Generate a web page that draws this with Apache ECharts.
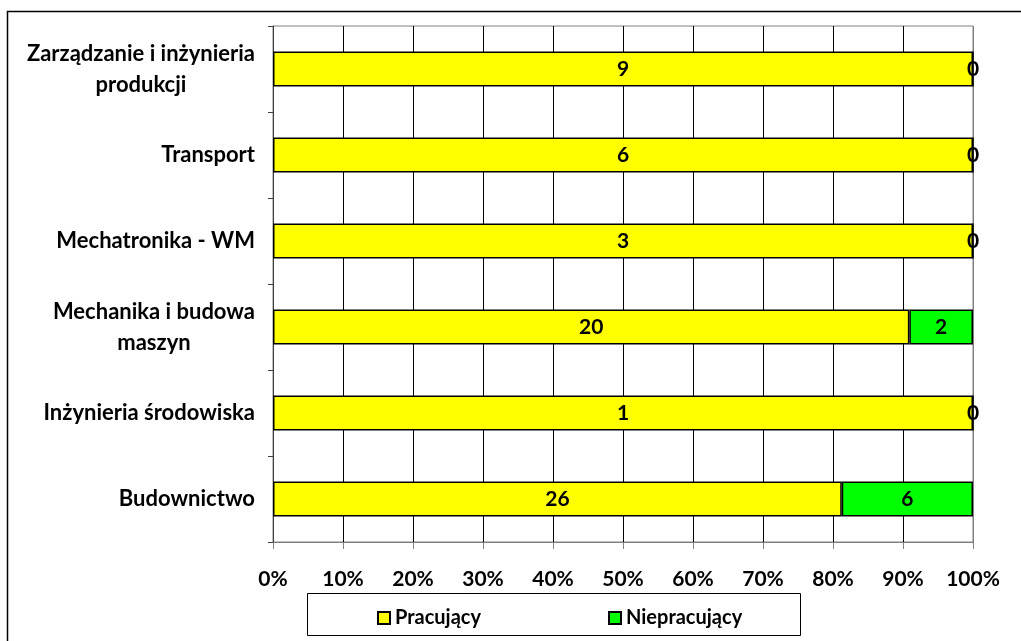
<!DOCTYPE html>
<html>
<head>
<meta charset="utf-8">
<script src="https://cdn.jsdelivr.net/npm/echarts@6/dist/echarts.min.js"></script>
<style>html,body{margin:0;padding:0;background:#fff;}#c{width:1021px;height:641px;}</style>
</head>
<body>
<div id="c"></div>
<script>
const categories = ['Budownictwo', 'Inżynieria środowiska', 'Mechanika i budowa\nmaszyn', 'Mechatronika - WM', 'Transport', 'Zarządzanie i inżynieria\nprodukcji'];
const pracujacy = [26, 1, 20, 3, 6, 9];
const niepracujacy = [6, 0, 2, 0, 0, 0];
const seriesNames = ['Pracujący', 'Niepracujący'];
const xTicks = [0, 10, 20, 30, 40, 50, 60, 70, 80, 90, 100];

const totals = pracujacy.map((v, i) => v + niepracujacy[i]);
const pct = arr => arr.map((v, i) => ({ value: v / totals[i] * 100, raw: v }));

const FONT = 'Lato';
const chart = echarts.init(document.getElementById('c'));
const splitColors = xTicks.map((t, i) => (i === xTicks.length - 1 ? '#808080' : '#000'));

const labelCfg = {
  show: true, position: 'inside', color: '#000', fontFamily: FONT, fontWeight: 'bold', fontSize: 21,
  formatter: p => String(p.data.raw)
};

chart.setOption({
  animation: false,
  graphic: [
    { type: 'rect', shape: { x: 7.5, y: 11.5, width: 1200, height: 800 }, style: { fill: 'none', stroke: '#000', lineWidth: 1.5 }, z: 0 },
    { type: 'rect', shape: { x: 307.5, y: 593.5, width: 493, height: 42 }, style: { fill: '#fff', stroke: '#000', lineWidth: 1 }, z: 1 }
  ],
  grid: { left: 273, right: 48, top: 26, bottom: 99, show: true, borderColor: '#808080', borderWidth: 1, containLabel: false },
  legend: [
    { data: [seriesNames[0]], left: 372, top: 603, itemWidth: 12, itemHeight: 12, icon: 'rect', z: 5, itemGap: 8,
      textStyle: { fontFamily: FONT, fontWeight: 'bold', fontSize: 20, color: '#000' } },
    { data: [seriesNames[1]], left: 603, top: 603, itemWidth: 12, itemHeight: 12, icon: 'rect', z: 5,
      textStyle: { fontFamily: FONT, fontWeight: 'bold', fontSize: 20, color: '#000' } }
  ],
  xAxis: {
    type: 'value', min: 0, max: 100, interval: 10,
    axisLine: { show: true, lineStyle: { color: '#808080', width: 1 } },
    axisTick: { show: true, length: 7, lineStyle: { color: '#808080' } },
    splitLine: { show: true, lineStyle: { color: splitColors, width: 1 } },
    axisLabel: { margin: 27, color: '#000', fontFamily: FONT, fontWeight: 'bold', fontSize: 21, formatter: v => v + '%' }
  },
  yAxis: {
    type: 'category', data: categories,
    axisLine: { show: true, lineStyle: { color: '#404040', width: 1 } },
    axisTick: { show: true, length: 5, lineStyle: { color: '#404040' } },
    splitLine: { show: false },
    axisLabel: {
      margin: 18, color: '#000', fontFamily: FONT, fontWeight: 'bold', fontSize: 22, lineHeight: 31,
      formatter: v => v.split('\n').map(s => '{c|' + s + '}').join('\n'),
      rich: { c: { align: 'center', fontFamily: FONT, fontWeight: 'bold', fontSize: 22, lineHeight: 31, color: '#000' } }
    }
  },
  series: [
    { name: seriesNames[0], type: 'bar', stack: 's', barWidth: 35, data: pct(pracujacy),
      itemStyle: { color: '#FFFF00', borderColor: '#000', borderWidth: 1.5 }, label: labelCfg },
    { name: seriesNames[1], type: 'bar', stack: 's', barWidth: 35, data: pct(niepracujacy),
      itemStyle: { color: '#00FF00', borderColor: '#000', borderWidth: 1.5 }, label: labelCfg }
  ]
});
</script>
</body>
</html>
